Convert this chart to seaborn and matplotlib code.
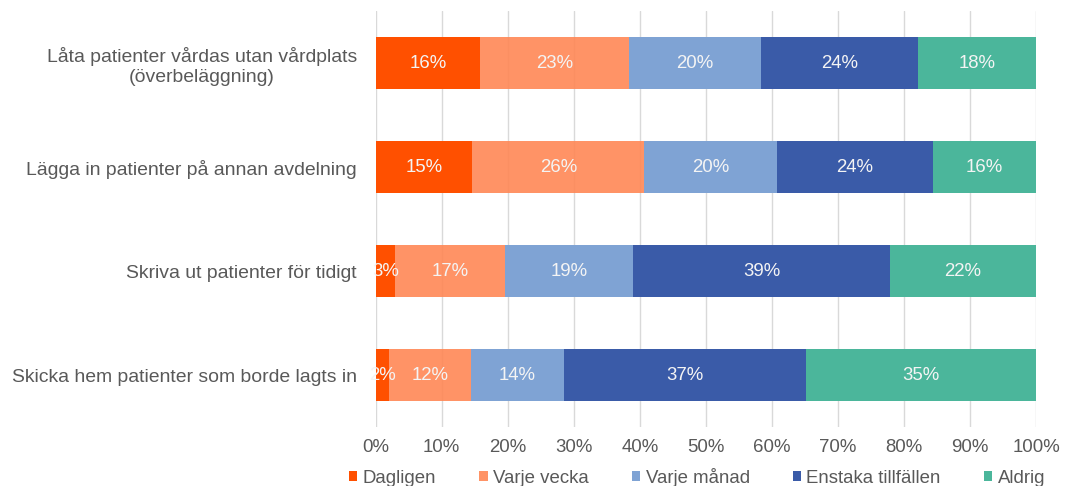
import numpy as np
import pandas as pd
import seaborn as sns
import matplotlib.pyplot as plt
from matplotlib.patches import Patch

# Survey data: share of respondents (%) per answer, one list per answer option
categories = [
    "Låta patienter vårdas utan vårdplats\n(överbeläggning)",
    "Lägga in patienter på annan avdelning",
    "Skriva ut patienter för tidigt",
    "Skicka hem patienter som borde lagts in",
]
series = ["Dagligen", "Varje vecka", "Varje månad", "Enstaka tillfällen", "Aldrig"]
dagligen = [15.8, 14.6, 2.9, 2.0]
varje_vecka = [22.6, 26.1, 16.7, 12.4]
varje_manad = [19.9, 20.1, 19.4, 14.1]
enstaka_tillfallen = [23.9, 23.6, 38.9, 36.7]
aldrig = [17.8, 15.6, 22.1, 34.8]
xtick_values = [0, 10, 20, 30, 40, 50, 60, 70, 80, 90, 100]

values = [dagligen, varje_vecka, varje_manad, enstaka_tillfallen, aldrig]
colors = ["#FF5000", "#FF8755", "#7FA3D4", "#3A5BA8", "#4BB69B"]
alphas = [1.0, 0.9, 1.0, 1.0, 1.0]

sns.set_theme(style="white")
plt.rcParams["font.family"] = ["Liberation Sans", "DejaVu Sans"]

text_color = "#595959"
fs_cat = 13.95
fs = 13.4

fig = plt.figure(figsize=(10.65, 4.86), dpi=100)
ax = fig.add_axes([375.7 / 1065, 1 - 427 / 486, (1036 - 375.7) / 1065, 416 / 486])

left = np.zeros(len(categories))
for name, vals, col, a in zip(series, values, colors, alphas):
    vals = np.asarray(vals, dtype=float)
    sns.barplot(x=vals, y=categories, orient="h", color=col, saturation=1,
                width=0.5, left=left, alpha=a, linewidth=0, ax=ax, zorder=2)
    for i, (l, v) in enumerate(zip(left, vals)):
        ax.text(l + v / 2, i, f"{v:.0f}%", ha="center", va="center",
                color="#F4F4F4", fontsize=fs, zorder=3)
    left = left + vals

ax.set_xlim(0, 100)
ax.set_xticks(xtick_values)
ax.set_xticklabels([f"{v}%" for v in xtick_values])
ax.set_xlabel("")
ax.set_ylabel("")
ax.grid(axis="x", color="#D9D9D9", linewidth=1.0, zorder=0)
ax.grid(axis="y", visible=False)
ax.set_axisbelow(True)
for s in ax.spines.values():
    s.set_visible(False)

ax.tick_params(axis="x", length=0, pad=8.5, labelsize=fs, labelcolor=text_color)
ax.tick_params(axis="y", length=0, pad=13.5, labelsize=fs_cat, labelcolor=text_color)
for t in ax.get_yticklabels():
    t.set_multialignment("center")
    t.set_linespacing(1.2)

handles = [Patch(facecolor=c, alpha=a, linewidth=0) for c, a in zip(colors, alphas)]
fig.legend(handles, series, loc="center", bbox_to_anchor=(697 / 1065, 1 - 477 / 486),
           ncol=5, frameon=False, fontsize=fs, labelcolor=text_color,
           handlelength=0.45, handleheight=0.45, handletextpad=0.3,
           columnspacing=2.3, borderaxespad=0, borderpad=0)

fig.savefig("out.png", dpi=100)
